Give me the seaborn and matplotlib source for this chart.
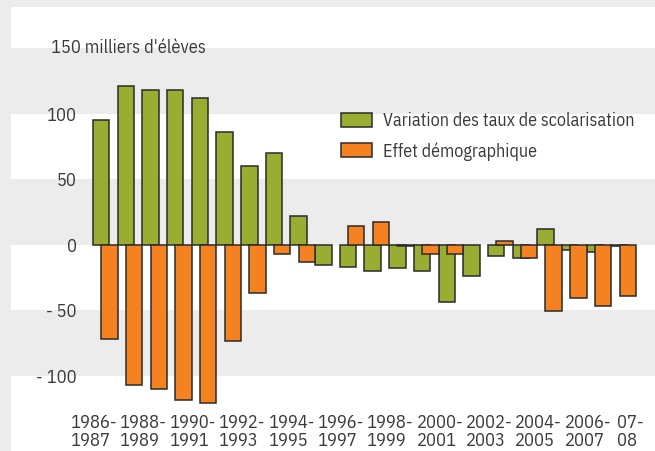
import numpy as np
import pandas as pd
import matplotlib
matplotlib.use("Agg")
import matplotlib.pyplot as plt
import matplotlib.transforms as mtransforms
import seaborn as sns

# school years 1986-1987 ... 2007-2008
years = ["1986-1987", "1987-1988", "1988-1989", "1989-1990", "1990-1991", "1991-1992",
         "1992-1993", "1993-1994", "1994-1995", "1995-1996", "1996-1997", "1997-1998",
         "1998-1999", "1999-2000", "2000-2001", "2001-2002", "2002-2003", "2003-2004",
         "2004-2005", "2005-2006", "2006-2007", "2007-2008"]
# thousands of pupils
taux_scolarisation = [95, 121, 118, 118, 112, 86, 60, 70, 22, -16, -17, -20,
                      -18, -20, -44, -24, -9, -10, 12, -4, -6, -1.5]
effet_demographique = [-72, -107, -110, -119, -121, -74, -37, -7, -13, None, 14, 17,
                       -1.5, -7.5, -7.5, None, 3, -10.5, -51, -41, -47, -39]
tick_labels = ["1986-\n1987", "1988-\n1989", "1990-\n1991", "1992-\n1993", "1994-\n1995",
               "1996-\n1997", "1998-\n1999", "2000-\n2001", "2002-\n2003", "2004-\n2005",
               "2006-\n2007", "07-\n08"]
y_ticks = [-100, -50, 0, 50, 100]
y_tick_labels = ["- 100", "- 50", "0", "50", "100"]

green = "#9aad33"
orange = "#f58220"
bg = "#ececec"
txt = "#3a3a3a"
fs = 13.3

sns.set_style("white")
plt.rcParams["font.family"] = ["IBM Plex Sans Condensed", "Liberation Sans Narrow", "DejaVu Sans"]

fig = plt.figure(figsize=(6.55, 4.51), dpi=100, facecolor=bg)
ax = fig.add_axes([11 / 655, 0, 644 / 655, 444 / 451])
ax.set_facecolor("white")

idx = np.arange(len(years))
df = pd.DataFrame({"pos": idx, "taux": taux_scolarisation,
                   "demo": pd.to_numeric(pd.Series(effet_demographique), errors="coerce")})

sns.barplot(x=df["pos"] - 1 / 6, y=df["taux"], native_scale=True, width=2 / 3,
            color=green, saturation=1, edgecolor="#2b2b2b", linewidth=1.1,
            errorbar=None, label="Variation des taux de scolarisation", ax=ax, zorder=3)
d = df.dropna(subset=["demo"])
sns.barplot(x=d["pos"] + 1 / 6, y=d["demo"], native_scale=True, width=2 / 3,
            color=orange, saturation=1, edgecolor="#2b2b2b", linewidth=1.1,
            errorbar=None, label="Effet démographique", ax=ax, zorder=4)

# alternating background bands
for lo, hi in [(100, 150), (0, 50), (-100, -50)]:
    ax.axhspan(lo, hi, color=bg, lw=0, zorder=0)

ax.set_xlim(-3.82, 22.27)
ax.set_ylim(-157.6, 181.3)

for s in ["top", "right", "left"]:
    ax.spines[s].set_visible(False)
ax.spines["bottom"].set_position(("data", 0))
ax.spines["bottom"].set_color("none")

# boundary tick marks on the zero line
ax.set_xticks(np.arange(-0.5, len(years)), minor=True)
ax.tick_params(axis="x", which="minor", direction="in", length=4.5, width=1, color="#222222")
label_pos = list(np.arange(0.5, len(years) - 1, 2)) + [len(years) - 0.2]
ax.set_xticks(label_pos)
ax.set_xticklabels(tick_labels, ha="right", multialignment="left", linespacing=1.0)
ax.tick_params(axis="x", which="major", length=0, pad=122, labelsize=fs, labelcolor=txt)

ax.set_yticks(y_ticks)
ax.set_yticklabels(y_tick_labels)
ax.tick_params(axis="y", length=0, pad=-47.5, labelsize=fs, labelcolor=txt)
ax.set_xlabel("")
ax.set_ylabel("")

trans = mtransforms.blended_transform_factory(ax.transAxes, ax.transData)
ax.text(40 / 644, 150, "150 milliers d'élèves", transform=trans, ha="left", va="center",
        fontsize=fs, color=txt)

ax.legend(loc="upper left", bbox_to_anchor=((341 - 11) / 644, (451 - 112) / 444),
          frameon=False, fontsize=13, handlelength=1.7, handleheight=0.8,
          handletextpad=0.6, labelspacing=0.65, borderpad=0, borderaxespad=0,
          labelcolor=txt)

fig.savefig("out.png", dpi=100, facecolor=bg)
